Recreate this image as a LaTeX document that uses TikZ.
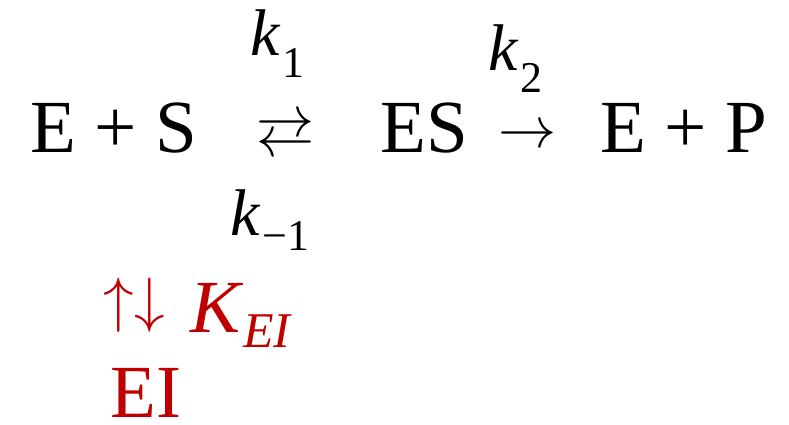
\RequirePackage{fix-cm}
\documentclass[tikz,border=0pt]{standalone}
\usepackage{fontspec}
\setmainfont{Liberation Serif}
\usetikzlibrary{positioning}
\definecolor{inhRed}{HTML}{C00000}
% lowered subscript: drop, text
\newcommand\lowsub[2]{\kern3pt\raisebox{-#1}{\fontsize{44}{44}\selectfont #2}}

\begin{document}
\begin{tikzpicture}[x=1pt, y=-1pt,
  chem/.style={anchor=base west, inner sep=0pt, text depth=0pt, font=\fontsize{75}{80}\selectfont},
  rate/.style={anchor=base west, inner sep=0pt, text depth=0pt, font=\fontsize{66}{70}\selectfont\itshape},
  arr/.style={anchor=base, inner sep=0pt, font=\fontsize{58}{60}\selectfont},
  inh/.style={text=inhRed},
]
\useasboundingbox (0,0) rectangle (789,424);
% ---- main scheme ----
\node[chem] (reactants) at (30,152) {E + S};
\node[arr] (eqarrow) at (285,146) {\raisebox{10pt}{$\rightarrow$}\llap{\raisebox{-10pt}{$\leftarrow$}}};
\node[chem] (complex) at (380,152) {ES};
\node[arr] (fwdarrow) at (527,147.5) {$\rightarrow$};
\node[chem] (products) at (600,152) {E + P};
% ---- rate constants ----
\node[rate] (kone) at (250,55) {k\lowsub{22pt}{\upshape 1}};
\node[rate] (ktwo) at (488,70) {k\lowsub{22pt}{\upshape 2}};
\node[rate] (kminus) at (230,235) {k\lowsub{15pt}{\upshape −1}};
% ---- inhibitor ----
\node[inh,inner sep=0pt,font=\fontsize{61}{61}\selectfont] (inharrows) at (134,305) {$\uparrow\downarrow$};
\node[rate,inh,font=\fontsize{75}{80}\selectfont\itshape] (kei) at (190,332) {K\lowsub{15pt}{\fontsize{50}{50}\selectfont EI}};
\node[chem,inh] (inhib) at (110,417) {EI};
\end{tikzpicture}
\end{document}
